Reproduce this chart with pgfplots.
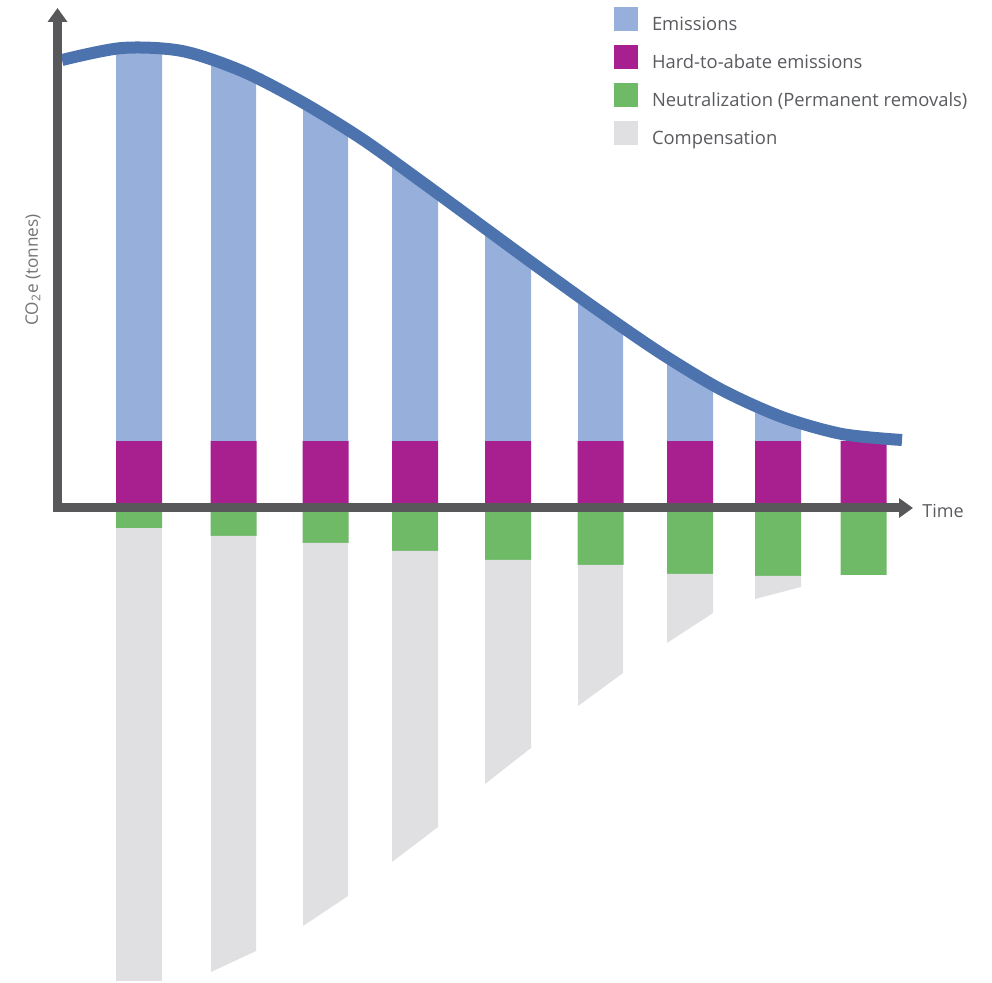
\documentclass[border=0pt]{standalone}
\usepackage{pgfplots}
\pgfplotsset{compat=1.18}
\usetikzlibrary{arrows.meta}
\usepackage{fontspec}
\setmainfont{Open Sans}
\definecolor{emis}{RGB}{151,176,219}
\definecolor{curve}{RGB}{76,115,173}
\definecolor{hard}{RGB}{168,31,144}
\definecolor{neut}{RGB}{111,186,103}
\definecolor{comp}{RGB}{224,224,226}
\definecolor{axisgray}{RGB}{88,88,90}
\definecolor{textgray}{RGB}{90,91,95}
\begin{document}
\begin{tikzpicture}
\useasboundingbox (0,0) rectangle (496pt,491pt);
\begin{axis}[
  at={(0,0)}, anchor=south west,
  hide axis, scale only axis, clip=false,
  width=496pt, height=491pt,
  xmin=0, xmax=992, ymin=-474, ymax=508,
  legend style={at={(axis cs:614,501)}, anchor=north west, draw=none, fill=none,
    inner sep=0pt, outer sep=0pt, row sep=5.85pt, column sep=7pt,
    font=\fontsize{9.2}{10}\selectfont, text=textgray,
    nodes={inner sep=0pt}},
  legend cell align=left,
  legend image code/.code={\fill[#1] (0pt,-3pt) rectangle (12pt,9pt);}
]
% hard-to-abate and neutralization
\addplot[forget plot, ybar, bar width=23pt, bar shift=0pt, fill=hard, draw=none]
  coordinates {(139,67) (233.5,67) (325.5,67) (415,67) (508,67) (600.5,67) (690,67) (778,67) (863.5,67)};
\addplot[forget plot, ybar, bar width=23pt, bar shift=0pt, fill=neut, draw=none]
  coordinates {(139,-20.5) (233.5,-28) (325.5,-35) (415,-43) (508,-52) (600.5,-57) (690,-66) (778,-68) (863.5,-67)};
% emissions (top follows the curve)
\addplot[forget plot, fill=emis, draw=none] coordinates {(116,67) (116,459) (162,460) (162,67)} --cycle;
\addplot[forget plot, fill=emis, draw=none] coordinates {(211,67) (211,449) (256,430) (256,67)} --cycle;
\addplot[forget plot, fill=emis, draw=none] coordinates {(303,67) (303,405) (348,378) (348,67)} --cycle;
\addplot[forget plot, fill=emis, draw=none] coordinates {(392,67) (392,347) (438,314) (438,67)} --cycle;
\addplot[forget plot, fill=emis, draw=none] coordinates {(485,67) (485,280) (531,246) (531,67)} --cycle;
\addplot[forget plot, fill=emis, draw=none] coordinates {(578,67) (578,212) (623,181) (623,67)} --cycle;
\addplot[forget plot, fill=emis, draw=none] coordinates {(667,67) (667,151) (713,123) (713,67)} --cycle;
\addplot[forget plot, fill=emis, draw=none] coordinates {(755,67) (755,101) (801,85) (801,67)} --cycle;
% compensation
\addplot[forget plot, fill=comp, draw=none] coordinates {(116,-20.5) (116,-473) (162,-473) (162,-20.5)} --cycle;
\addplot[forget plot, fill=comp, draw=none] coordinates {(211,-28) (211,-464) (256,-443) (256,-28)} --cycle;
\addplot[forget plot, fill=comp, draw=none] coordinates {(303,-35) (303,-418) (348,-388) (348,-35)} --cycle;
\addplot[forget plot, fill=comp, draw=none] coordinates {(392,-43) (392,-354) (438,-319) (438,-43)} --cycle;
\addplot[forget plot, fill=comp, draw=none] coordinates {(485,-52) (485,-276) (531,-240) (531,-52)} --cycle;
\addplot[forget plot, fill=comp, draw=none] coordinates {(578,-57) (578,-198) (623,-165) (623,-57)} --cycle;
\addplot[forget plot, fill=comp, draw=none] coordinates {(667,-66) (667,-135) (713,-105) (713,-66)} --cycle;
\addplot[forget plot, fill=comp, draw=none] coordinates {(755,-68) (755,-91) (801,-79) (801,-68)} --cycle;
% emissions curve
\addplot[forget plot, smooth, line width=6pt, color=curve] coordinates {
  (62,448) (122,460) (182,457) (242,437) (302,406) (362,369) (422,326) (482,282)
  (542,238) (602,195) (662,154) (722,118) (782,91) (842,74) (902,68)};
% axes
\draw[line width=4.5pt, axisgray, line join=miter,
  {Triangle[length=7pt,width=9.5pt]}-{Triangle[length=7pt,width=9.5pt]}]
  (axis cs:57.5,500) -- (axis cs:57.5,0) -- (axis cs:913,0);
\node[anchor=base west, inner sep=0pt, text=textgray, font=\fontsize{9}{10}\selectfont]
  at (axis cs:922,-9) {Time};
\node[rotate=90, inner sep=0pt, text=textgray!85, font=\fontsize{8.6}{10}\selectfont]
  at (axis cs:33,238) {CO\textsubscript{2}e (tonnes)};
% legend
\addlegendimage{fill=emis, draw=none}
\addlegendentry{Emissions}
\addlegendimage{fill=hard, draw=none}
\addlegendentry{Hard-to-abate emissions}
\addlegendimage{fill=neut, draw=none}
\addlegendentry{Neutralization (Permanent removals)}
\addlegendimage{fill=comp, draw=none}
\addlegendentry{Compensation}
\end{axis}
\end{tikzpicture}
\end{document}
